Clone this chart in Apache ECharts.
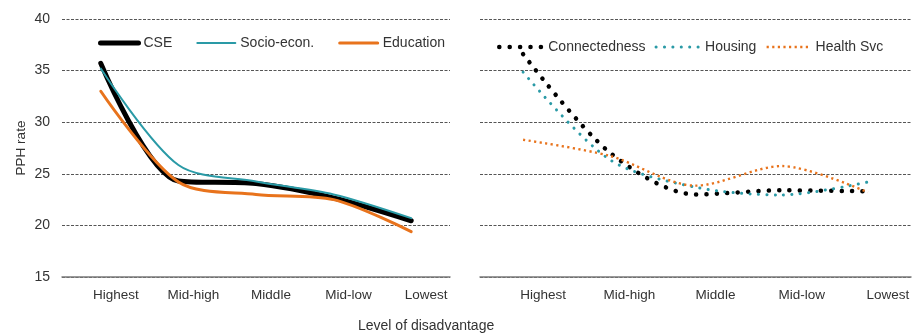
<!DOCTYPE html>
<html>
<head>
<meta charset="utf-8">
<script src="https://cdn.jsdelivr.net/npm/echarts@6/dist/echarts.min.js"></script>
<style>
  html, body { margin: 0; padding: 0; background: #fff; }
  #pphChart { width: 917px; height: 334px; }
</style>
</head>
<body>
<div id="pphChart"></div>
<script>
// level of disadvantage
var categories = ['Highest', 'Mid-high', 'Middle', 'Mid-low', 'Lowest'];

// left panel
var cse = [35.7, 24.3, 24.05, 22.65, 20.45];
var socioEcon = [35.2, 25.85, 24.25, 23.0, 20.7];
var education = [33.0, 24.2, 23.0, 22.5, 19.4];

// right panel
var connectedness = [36.6, 27.1, 23.0, 23.4, 23.3];
var housing = [34.85, 26.4, 23.7, 22.95, 24.2];
var healthSvc = [28.3, 26.75, 23.85, 25.75, 23.2];

var yTicks = [15, 20, 25, 30, 35, 40];

var font = 'Liberation Sans, Arial, sans-serif';
var textColor = '#333';
var black = '#000000', teal = '#2a9aa6', orange = '#e8731c';

var pphChart = echarts.init(document.getElementById('pphChart'));

function xAxisFor(gridIndex, shift) {
    return {
        type: 'category',
        gridIndex: gridIndex,
        data: categories,
        boundaryGap: true,
        axisTick: {show: false},
        axisLine: {lineStyle: {color: '#7a7a7a', width: 1.5}},
        axisLabel: {
            color: textColor, fontFamily: font, fontSize: 13.5,
            margin: 11, padding: [0, 0, 0, shift], interval: 0
        }
    };
}

function yAxisFor(gridIndex, showLabels) {
    return {
        type: 'value',
        gridIndex: gridIndex,
        min: yTicks[0],
        max: yTicks[yTicks.length - 1],
        interval: 5,
        axisLine: {show: false},
        axisTick: {show: false},
        axisLabel: {show: showLabels, color: textColor, fontFamily: font, fontSize: 14, margin: 12},
        splitLine: {lineStyle: {color: '#555', width: 1.2, type: [3, 1.5]}},
        name: showLabels ? 'PPH rate' : '',
        nameLocation: 'middle',
        nameGap: 34,
        nameRotate: 90,
        nameTextStyle: {color: textColor, fontFamily: font, fontSize: 13.5}
    };
}

function lineSeries(name, data, idx, color, width, dash, cap) {
    return {
        name: name,
        type: 'line',
        xAxisIndex: idx,
        yAxisIndex: idx,
        data: data,
        smooth: 0.3,
        symbol: 'none',
        color: color,
        lineStyle: {color: color, width: width, type: dash || 'solid', cap: cap || 'round'},
        z: 3
    };
}

var legendText = {color: textColor, fontFamily: font, fontSize: 14};

var option = {
    animation: false,
    title: {
        text: 'Level of disadvantage',
        left: 358,
        top: 319,
        padding: 0,
        textStyle: {color: textColor, fontFamily: font, fontSize: 14, fontWeight: 'normal'}
    },
    legend: [{
        data: [
            {name: 'CSE', lineStyle: {width: 5}},
            {name: 'Socio-econ.', lineStyle: {width: 2}},
            {name: 'Education', lineStyle: {width: 3}}
        ],
        left: 98,
        top: 36,
        padding: 0,
        itemWidth: 38,
        itemHeight: 14,
        itemGap: 24,
        itemStyle: {opacity: 0},
        textStyle: legendText
    }, {
        data: [
            {name: 'Connectedness', lineStyle: {width: 4.5}},
            {name: 'Housing', lineStyle: {width: 3}},
            {name: 'Health Svc', lineStyle: {width: 2.4}}
        ],
        left: 497,
        top: 40,
        padding: 0,
        itemWidth: 44,
        itemHeight: 14,
        itemGap: 9,
        itemStyle: {opacity: 0},
        textStyle: legendText
    }],
    grid: [
        {left: 62, right: 467, top: 19, bottom: 57},
        {left: 480, right: 6, top: 19, bottom: 57}
    ],
    xAxis: [xAxisFor(0, 30), xAxisFor(1, 40)],
    yAxis: [yAxisFor(0, true), yAxisFor(1, false)],
    series: [
        lineSeries('CSE', cse, 0, black, 5),
        lineSeries('Socio-econ.', socioEcon, 0, teal, 2),
        lineSeries('Education', education, 0, orange, 3),
        lineSeries('Connectedness', connectedness, 1, black, 4.5, [0.1, 10.3], 'round'),
        lineSeries('Housing', housing, 1, teal, 3, [0.1, 8.3], 'round'),
        lineSeries('Health Svc', healthSvc, 1, orange, 2.4, [2.2, 3.4], 'butt')
    ]
};

pphChart.setOption(option);
</script>
</body>
</html>
